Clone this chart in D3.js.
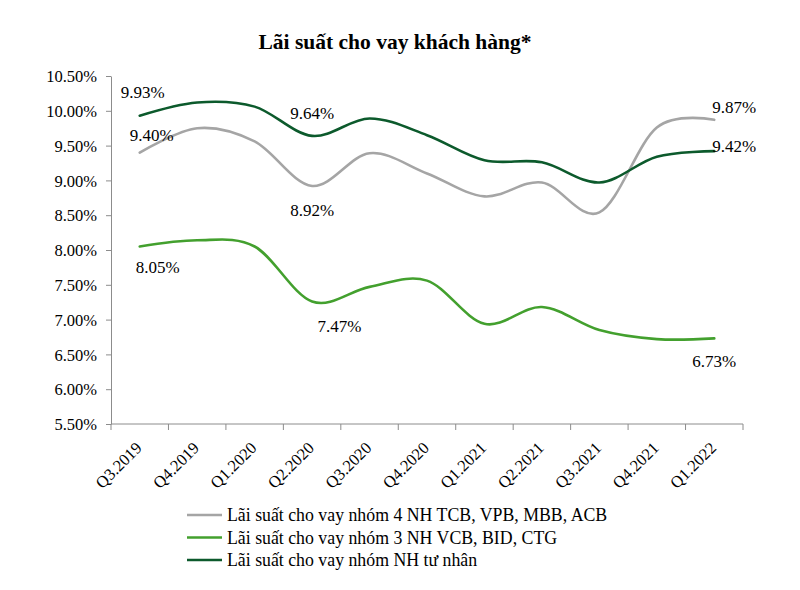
<!DOCTYPE html>
<html>
<head>
<meta charset="utf-8">
<script src="https://cdn.jsdelivr.net/npm/d3@7"></script>
<style>
  body { margin: 0; background: #fff; }
  svg { display: block; font-family: "Liberation Serif", "Times New Roman", serif; }
</style>
</head>
<body>
<svg id="chart" width="800" height="590"></svg>
<script>
const title = "Lãi suất cho vay khách hàng*";
const categories = ["Q3.2019","Q4.2019","Q1.2020","Q2.2020","Q3.2020","Q4.2020","Q1.2021","Q2.2021","Q3.2021","Q4.2021","Q1.2022"];
const yTicks = [5.5, 6.0, 6.5, 7.0, 7.5, 8.0, 8.5, 9.0, 9.5, 10.0, 10.5];
const seriesNames = [
  "Lãi suất cho vay nhóm 4 NH TCB, VPB, MBB, ACB",
  "Lãi suất cho vay nhóm 3 NH VCB, BID, CTG",
  "Lãi suất cho vay nhóm NH tư nhân"
];
const group4 = [9.40, 9.75, 9.56, 8.92, 9.39, 9.10, 8.77, 8.97, 8.54, 9.76, 9.87];
const group3 = [8.05, 8.14, 8.05, 7.26, 7.47, 7.56, 6.94, 7.18, 6.85, 6.72, 6.73];
const privateBanks = [9.93, 10.12, 10.06, 9.64, 9.89, 9.65, 9.29, 9.26, 8.97, 9.34, 9.42];
const seriesColors = ["#a5a5a5", "#43a02e", "#0c5a2c"];
// labelled points: [series index, category index, text, dx, dy]
const pointLabels = [
  [2, 0, "9.93%", 3, -18],
  [0, 0, "9.40%", 12, -12],
  [2, 3, "9.64%", 0, -17],
  [0, 3, "8.92%", 0, 30],
  [1, 0, "8.05%", 18, 26],
  [1, 4, "7.47%", -30, 45],
  [1, 10, "6.73%", 0, 29],
  [0, 10, "9.87%", 20, -7],
  [2, 10, "9.42%", 20, 1]
];

const allSeries = [group4, group3, privateBanks];
const svg = d3.select("#chart");

const x = d3.scaleBand().domain(categories).range([111, 743]).padding(0);
const y = d3.scaleLinear().domain([5.5, 10.5]).range([424, 76]);
const axisColor = "#8c8c8c";

// Title
svg.append("text")
  .attr("x", 395).attr("y", 49)
  .attr("text-anchor", "middle")
  .attr("font-size", 21.5).attr("font-weight", "bold")
  .attr("fill", "#000")
  .text(title);

// Y axis
const yAxis = svg.append("g")
  .attr("transform", "translate(111,0)")
  .call(d3.axisLeft(y).tickValues(yTicks).tickSize(5).tickSizeOuter(0)
    .tickFormat(d => d.toFixed(2) + "%"));
yAxis.select(".domain").attr("stroke", axisColor);
yAxis.selectAll(".tick line").attr("stroke", axisColor);
yAxis.selectAll(".tick text")
  .attr("font-family", "Liberation Serif, serif")
  .attr("font-size", 16.5).attr("fill", "#000").attr("x", -14).attr("dy", "0.35em");

// X axis line + ticks at boundaries
const xAxis = svg.append("g").attr("transform", "translate(0,424)");
xAxis.append("line").attr("x1", 111).attr("x2", 743).attr("stroke", axisColor);
const boundaries = categories.map(c => x(c)).concat([x.range()[1]]);
xAxis.selectAll("line.tk").data(boundaries).enter().append("line")
  .attr("class", "tk")
  .attr("x1", d => d).attr("x2", d => d).attr("y1", 0).attr("y2", 6)
  .attr("stroke", axisColor);
xAxis.selectAll("text.cat").data(categories).enter().append("text")
  .attr("class", "cat")
  .attr("text-anchor", "end")
  .attr("font-size", 16.5).attr("fill", "#000")
  .attr("transform", d => `translate(${x(d) + x.bandwidth() / 2 + 3},${25}) rotate(-45)`)
  .text(d => d);

// Lines
const line = d3.line()
  .x((d, i) => x(categories[i]) + x.bandwidth() / 2)
  .y(d => y(d))
  .curve(d3.curveCardinal.tension(0));

allSeries.forEach((s, k) => {
  svg.append("path")
    .datum(s)
    .attr("fill", "none")
    .attr("stroke", seriesColors[k])
    .attr("stroke-width", 2.6)
    .attr("stroke-linecap", "round")
    .attr("d", line);
});

// Point labels
svg.selectAll("text.pl").data(pointLabels).enter().append("text")
  .attr("class", "pl")
  .attr("text-anchor", "middle")
  .attr("font-size", 17).attr("fill", "#000")
  .attr("x", d => x(categories[d[1]]) + x.bandwidth() / 2 + d[3])
  .attr("y", d => y(allSeries[d[0]][d[1]]) + d[4])
  .text(d => d[2]);

// Legend
const legend = svg.append("g");
seriesNames.forEach((name, k) => {
  const ly = 515 + k * 22.5;
  legend.append("line")
    .attr("x1", 187).attr("x2", 222).attr("y1", ly).attr("y2", ly)
    .attr("stroke", seriesColors[k]).attr("stroke-width", 2.6);
  legend.append("text")
    .attr("x", 227).attr("y", ly + 6)
    .attr("font-size", 17.8).attr("fill", "#000")
    .text(name);
});
</script>
</body>
</html>
